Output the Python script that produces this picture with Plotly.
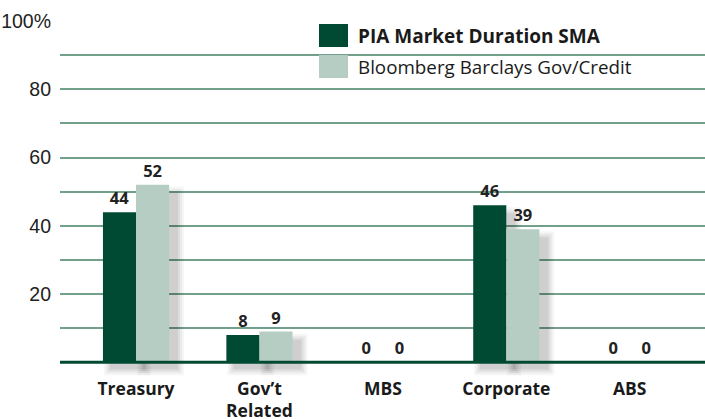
import plotly.graph_objects as go

categories = ["Treasury", "Gov’t<br>Related", "MBS", "Corporate", "ABS"]
pia_sma = [44, 8, 0, 46, 0]
bbgc = [52, 9, 0, 39, 0]
series_names = ["PIA Market Duration SMA", "Bloomberg Barclays Gov/Credit"]
y_tickvals = [10, 20, 30, 40, 50, 60, 70, 80, 90, 100]
y_ticktext = ["", "20", "", "40", "", "60", "", "80", "", "100%"]

DARK = "#004a33"
LIGHT = "#b6cdc4"
GRID = "#72a08b"
TEXT = "Open Sans, Liberation Sans, Arial, sans-serif"
TICK = "Liberation Sans, Arial, sans-serif"

W = 0.268          # bar width in category units
PX_X = 1 / 123.3   # one pixel in category units
PX_Y = 1 / 3.41    # one pixel in y units

fig = go.Figure()

# soft drop shadows: each bar's shadow shifted right/down, layered for blur
for vals, off in [(pia_sma, -W), (bbgc, 0.0)]:
    for e, op in [(7, 0.035), (5, 0.045), (3, 0.055), (1, 0.065)]:
        tops = [v - (9 - e) * PX_Y if v > 0 else None for v in vals]
        base = -(6 + e) * PX_Y
        fig.add_trace(go.Bar(
            x=categories,
            y=[t - base if t is not None else None for t in tops],
            base=base,
            width=W + 2 * e * PX_X, offset=off + (8 - e) * PX_X,
            marker=dict(color="rgba(0,0,0,%.3f)" % op, line=dict(width=0)),
            hoverinfo="skip", showlegend=False,
        ))

fig.add_trace(go.Bar(
    x=categories, y=pia_sma, name=series_names[0],
    width=W, offset=-W,
    marker=dict(color=DARK, line=dict(width=0)),
    texttemplate="<b>%{y}</b>", textposition="outside",
    textfont=dict(family=TEXT, size=16.5, color="#222222"),
    cliponaxis=False, showlegend=False,
))
fig.add_trace(go.Bar(
    x=categories, y=bbgc, name=series_names[1],
    width=W, offset=0,
    marker=dict(color=LIGHT, line=dict(width=0)),
    texttemplate="<b>%{y}</b>", textposition="outside",
    textfont=dict(family=TEXT, size=16.5, color="#222222"),
    cliponaxis=False, showlegend=False,
))

# baseline
fig.add_shape(type="line", xref="paper", yref="y", x0=0, x1=1, y0=0, y1=0,
              line=dict(color=DARK, width=3), layer="above")

# custom legend (pixel layout converted to paper coords)
PLOT_H = 354.6
legend_items = [(series_names[0], DARK, True, 24, 47), (series_names[1], LIGHT, False, 55, 78)]
for name, col, bold, top_px, bot_px in legend_items:
    y_top = 1 - (top_px - 21) / PLOT_H
    y_bot = 1 - (bot_px - 21) / PLOT_H
    fig.add_shape(type="rect", xref="paper", yref="paper",
                  x0=(319 - 60) / 645, x1=(348 - 60) / 645, y0=y_bot, y1=y_top,
                  fillcolor=col, line=dict(width=0), layer="above")
    fig.add_annotation(xref="paper", yref="paper", x=(356 - 60) / 645, y=(y_top + y_bot) / 2,
                       text=("<b>%s</b>" % name) if bold else name, showarrow=False,
                       xanchor="left", yanchor="middle",
                       font=dict(family=TEXT, size=19 if bold else 18.8, color="#1a1a1a"))

fig.update_layout(
    width=705, height=419,
    margin=dict(l=60, r=0, t=21, b=43),
    paper_bgcolor="white", plot_bgcolor="white",
    barmode="overlay",
    xaxis=dict(range=[-0.616, 4.61], showgrid=False, zeroline=False, showline=False,
               ticks="", tickfont=dict(family=TEXT, size=17.5, color="#1a1a1a"),
               tickprefix="<b>", ticksuffix="</b>", automargin=False),
    yaxis=dict(range=[-4, 100], tickvals=y_tickvals, ticktext=y_ticktext,
               showgrid=True, gridcolor=GRID, gridwidth=1.5, zeroline=False,
               showline=False, ticks="", ticklabelstandoff=8,
               tickfont=dict(family=TICK, size=19.5, color="#222222"), automargin=False),
    showlegend=False,
)

fig.write_html("out.html", config={"displayModeBar": False},
               post_script="document.body.style.margin='0';document.body.style.overflow='hidden';")
